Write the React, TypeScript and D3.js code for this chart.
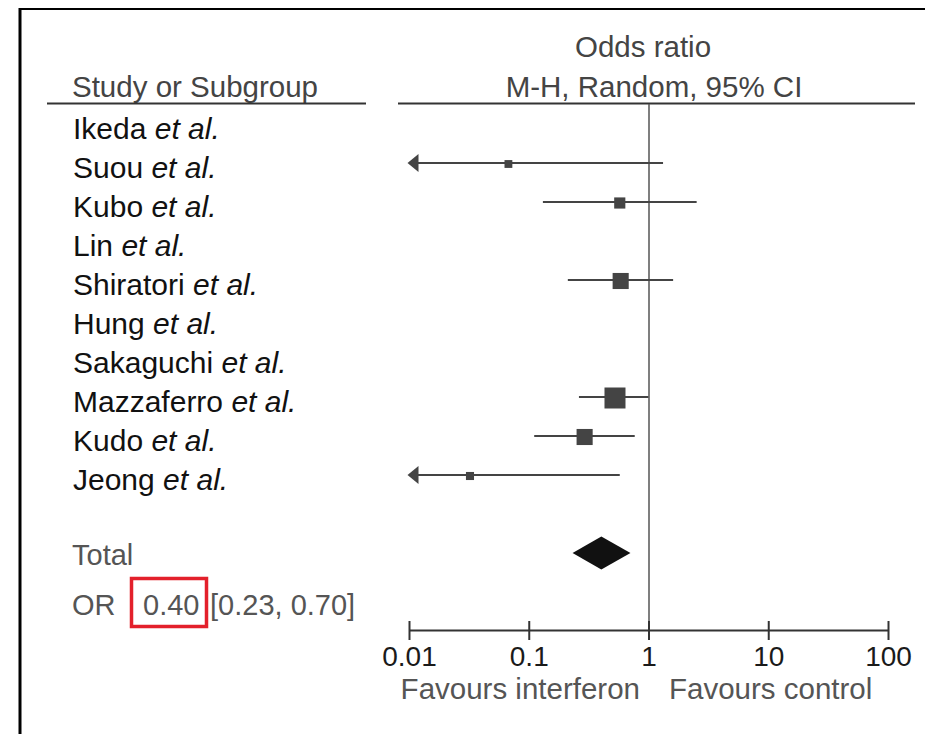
import * as d3 from "d3"

// study rows, top to bottom (null = no estimable odds ratio)
const studies = [
  "Ikeda",
  "Suou",
  "Kubo",
  "Lin",
  "Shiratori",
  "Hung",
  "Sakaguchi",
  "Mazzaferro",
  "Kudo",
  "Jeong",
]
const oddsRatio = [null, 0.067, 0.57, null, 0.58, null, null, 0.52, 0.29, 0.032]
const ciLower = [null, 0.004, 0.13, null, 0.21, null, null, 0.26, 0.11, 0.002]
const ciUpper = [null, 1.31, 2.5, null, 1.59, null, null, 0.99, 0.76, 0.57]
const weights = [null, 3.2, 6.5, null, 13.5, null, null, 23, 13.5, 3.4]

const totalOR = 0.4
const totalLower = 0.23
const totalUpper = 0.7

const ticks = [0.01, 0.1, 1, 10, 100]
const tickLabels = ["0.01", "0.1", "1", "10", "100"]

const FONT = "'Liberation Sans', Arial, Helvetica, sans-serif"

export default function App() {
  const x = d3.scaleLog().domain([0.01, 100]).range([409.5, 888.5])
  const y = d3
    .scaleLinear()
    .domain([0, studies.length - 1])
    .range([124, 124 + 39 * (studies.length - 1)])
  const size = d3.scaleSqrt().domain([0, 23]).range([0, 21])

  const axisY = 630
  const totalY = 553
  // left-pointing arrow where the CI runs off the axis
  const arrowPath = (yy: number) => {
    const tip = x(0.01) - 2
    return `M${tip},${yy} L${tip + 11},${yy - 9} L${tip + 11},${yy + 9} Z`
  }
  const diamond = `M${x(totalLower)},${totalY} L${x(totalOR)},${totalY - 16.5} L${x(totalUpper)},${totalY} L${x(totalOR)},${totalY + 16.5} Z`

  return (
    <svg width={917} height={726} style={{ display: "block" }} fontFamily={FONT}>
      <rect width={917} height={726} fill="#fff" />
      {/* open-bottom frame */}
      <path d="M12,726 L12,0.5 L920,0.5 L920,726" fill="none" stroke="#000" strokeWidth={3} />

      {/* header */}
      <text x={635} y={49} textAnchor="middle" fontSize={29.5} fill="#444">
        Odds ratio
      </text>
      <text x={646} y={89} textAnchor="middle" fontSize={29.5} fill="#444">
        M-H, Random, 95% CI
      </text>
      <text x={64} y={89} fontSize={29.5} fill="#444">
        Study or Subgroup
      </text>
      <line x1={39} x2={358} y1={95.5} y2={95.5} stroke="#333" strokeWidth={2} />
      <line x1={390} x2={907} y1={95.5} y2={95.5} stroke="#333" strokeWidth={2} />

      {/* line of no effect */}
      <line x1={x(1) - 8} x2={x(1) - 8} y1={96} y2={axisY - 8} stroke="#555" strokeWidth={1.5} />

      <g transform="translate(-8,-8)">
        {studies.map((s, i) => (
          <text key={s} x={73} y={y(i) + 15} fontSize={30} fill="#111">
            {s} <tspan fontStyle="italic">et al.</tspan>
          </text>
        ))}

        {studies.map((s, i) => {
          const or = oddsRatio[i]
          if (or === null) return null
          const lo = ciLower[i] as number
          const hi = ciUpper[i] as number
          const w = size(weights[i] as number)
          const yy = y(i)
          return (
            <g key={s}>
              <line
                x1={x(Math.max(lo, 0.01))}
                x2={x(hi)}
                y1={yy}
                y2={yy}
                stroke="#444"
                strokeWidth={2}
              />
              {lo < 0.01 && <path d={arrowPath(yy)} fill="#444" />}
              <rect x={x(or) - w / 2} y={yy - w / 2 + 1} width={w} height={w} fill="#444" />
            </g>
          )
        })}

        {/* pooled estimate */}
        <path d={diamond} fill="#111" />
        <text x={72} y={565} fontSize={29} fill="#555">
          Total
        </text>
        <text x={72} y={615} fontSize={29} fill="#555">
          OR
        </text>
        <text x={143} y={615} fontSize={29} fill="#555">
          {totalOR.toFixed(2)}
        </text>
        <text x={210} y={615} fontSize={29} fill="#555">
          [{totalLower.toFixed(2)}, {totalUpper.toFixed(2)}]
        </text>
        <rect x={131.5} y={578.5} width={75} height={48} fill="none" stroke="#e3202b" strokeWidth={3.5} />

        {/* axis */}
        <line x1={x(0.01)} x2={x(100)} y1={axisY + 0.5} y2={axisY + 0.5} stroke="#333" strokeWidth={2} />
        {ticks.map((t, i) => (
          <g key={t}>
            <line x1={x(t)} x2={x(t)} y1={axisY - 9} y2={axisY + 10} stroke="#333" strokeWidth={2} />
            <text x={x(t)} y={666} textAnchor="middle" fontSize={28} fill="#1a1a1a">
              {tickLabels[i]}
            </text>
          </g>
        ))}
        <text x={640} y={699} textAnchor="end" fontSize={29.5} fill="#555">
          Favours interferon
        </text>
        <text x={669} y={699} fontSize={29.5} fill="#555">
          Favours control
        </text>
      </g>
    </svg>
  )
}
